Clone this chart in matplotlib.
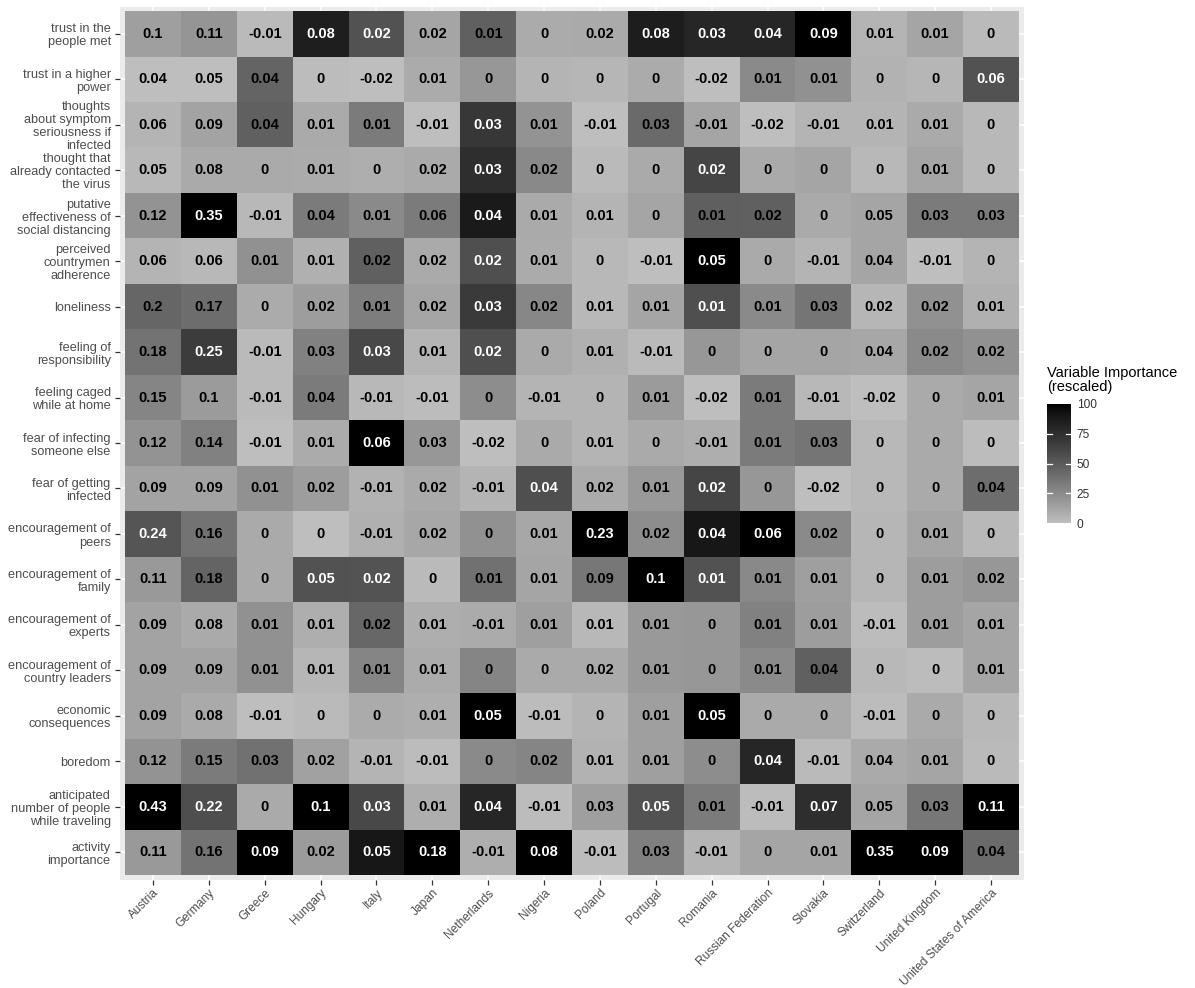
import numpy as np
import matplotlib
matplotlib.use("Agg")
import matplotlib.pyplot as plt
from matplotlib.colors import ListedColormap
from matplotlib import transforms

plt.rcParams['font.family'] = ['Liberation Sans', 'DejaVu Sans']

countries = ["Austria", "Germany", "Greece", "Hungary", "Italy", "Japan", "Netherlands",
             "Nigeria", "Poland", "Portugal", "Romania", "Russian Federation", "Slovakia",
             "Switzerland", "United Kingdom", "United States of America"]

variables = [
    "trust in the\npeople met",
    "trust in a higher\npower",
    "thoughts\nabout symptom\nseriousness if\ninfected",
    "thought that\nalready contacted\nthe virus",
    "putative\neffectiveness of\nsocial distancing",
    "perceived\ncountrymen\nadherence",
    "loneliness",
    "feeling of\nresponsibility",
    "feeling caged\nwhile at home",
    "fear of infecting\nsomeone else",
    "fear of getting\ninfected",
    "encouragement of\npeers",
    "encouragement of\nfamily",
    "encouragement of\nexperts",
    "encouragement of\ncountry leaders",
    "economic\nconsequences",
    "boredom",
    "anticipated\nnumber of people\nwhile traveling",
    "activity\nimportance",
]

# printed values (rows = variables top to bottom, columns = countries)
values = [
    [0.1, 0.11, -0.01, 0.08, 0.02, 0.02, 0.01, 0, 0.02, 0.08, 0.03, 0.04, 0.09, 0.01, 0.01, 0],
    [0.04, 0.05, 0.04, 0, -0.02, 0.01, 0, 0, 0, 0, -0.02, 0.01, 0.01, 0, 0, 0.06],
    [0.06, 0.09, 0.04, 0.01, 0.01, -0.01, 0.03, 0.01, -0.01, 0.03, -0.01, -0.02, -0.01, 0.01, 0.01, 0],
    [0.05, 0.08, 0, 0.01, 0, 0.02, 0.03, 0.02, 0, 0, 0.02, 0, 0, 0, 0.01, 0],
    [0.12, 0.35, -0.01, 0.04, 0.01, 0.06, 0.04, 0.01, 0.01, 0, 0.01, 0.02, 0, 0.05, 0.03, 0.03],
    [0.06, 0.06, 0.01, 0.01, 0.02, 0.02, 0.02, 0.01, 0, -0.01, 0.05, 0, -0.01, 0.04, -0.01, 0],
    [0.2, 0.17, 0, 0.02, 0.01, 0.02, 0.03, 0.02, 0.01, 0.01, 0.01, 0.01, 0.03, 0.02, 0.02, 0.01],
    [0.18, 0.25, -0.01, 0.03, 0.03, 0.01, 0.02, 0, 0.01, -0.01, 0, 0, 0, 0.04, 0.02, 0.02],
    [0.15, 0.1, -0.01, 0.04, -0.01, -0.01, 0, -0.01, 0, 0.01, -0.02, 0.01, -0.01, -0.02, 0, 0.01],
    [0.12, 0.14, -0.01, 0.01, 0.06, 0.03, -0.02, 0, 0.01, 0, -0.01, 0.01, 0.03, 0, 0, 0],
    [0.09, 0.09, 0.01, 0.02, -0.01, 0.02, -0.01, 0.04, 0.02, 0.01, 0.02, 0, -0.02, 0, 0, 0.04],
    [0.24, 0.16, 0, 0, -0.01, 0.02, 0, 0.01, 0.23, 0.02, 0.04, 0.06, 0.02, 0, 0.01, 0],
    [0.11, 0.18, 0, 0.05, 0.02, 0, 0.01, 0.01, 0.09, 0.1, 0.01, 0.01, 0.01, 0, 0.01, 0.02],
    [0.09, 0.08, 0.01, 0.01, 0.02, 0.01, -0.01, 0.01, 0.01, 0.01, 0, 0.01, 0.01, -0.01, 0.01, 0.01],
    [0.09, 0.09, 0.01, 0.01, 0.01, 0.01, 0, 0, 0.02, 0.01, 0, 0.01, 0.04, 0, 0, 0.01],
    [0.09, 0.08, -0.01, 0, 0, 0.01, 0.05, -0.01, 0, 0.01, 0.05, 0, 0, -0.01, 0, 0],
    [0.12, 0.15, 0.03, 0.02, -0.01, -0.01, 0, 0.02, 0.01, 0.01, 0, 0.04, -0.01, 0.04, 0.01, 0],
    [0.43, 0.22, 0, 0.1, 0.03, 0.01, 0.04, -0.01, 0.03, 0.05, 0.01, -0.01, 0.07, 0.05, 0.03, 0.11],
    [0.11, 0.16, 0.09, 0.02, 0.05, 0.18, -0.01, 0.08, -0.01, 0.03, -0.01, 0, 0.01, 0.35, 0.09, 0.04],
]

# rescaled importance (0-100) per country, read from the tile shading (top to bottom)
importance_by_country = {
    "Austria":     [15, 0, 5, 3, 21, 5, 44, 37, 28, 21, 13, 53, 18, 13, 13, 13, 21, 100, 18],
    "Germany":     [20, 0, 13, 10, 100, 3, 40, 67, 17, 30, 13, 37, 45, 10, 13, 10, 33, 57, 37],
    "Greece":      [2, 45, 47, 10, 3, 22, 9, 2, 2, 0, 22, 10, 10, 22, 22, 0, 38, 10, 100],
    "Hungary":     [85, 1, 10, 9, 33, 7, 16, 30, 33, 9, 16, 0, 55, 8, 4, 2, 14, 100, 17],
    "Italy":       [55, 0, 33, 8, 25, 47, 32, 60, 3, 100, 6, 7, 54, 43, 28, 9, 5, 60, 90],
    "Japan":       [12, 9, 0, 10, 33, 10, 12, 5, 1, 19, 10, 11, 2, 8, 9, 8, 1, 8, 100],
    "Netherlands": [47, 19, 70, 75, 88, 56, 68, 56, 24, 0, 5, 22, 38, 9, 28, 100, 25, 80, 8],
    "Nigeria":     [9, 5, 21, 26, 10, 9, 27, 10, 5, 10, 56, 11, 12, 15, 10, 1, 28, 1, 100],
    "Poland":      [10, 4, 0, 2, 5, 3, 3, 7, 5, 5, 9, 100, 35, 3, 10, 5, 6, 15, 1],
    "Portugal":    [86, 9, 42, 10, 12, 0, 12, 2, 17, 10, 18, 24, 100, 18, 18, 15, 15, 55, 31],
    "Romania":     [80, 0, 12, 62, 48, 100, 56, 19, 0, 8, 62, 90, 55, 19, 19, 100, 24, 33, 5],
    "Russian Federation": [80, 25, 0, 10, 47, 10, 25, 12, 33, 33, 19, 100, 26, 30, 25, 10, 80, 1, 12],
    "Slovakia":    [100, 22, 5, 12, 10, 5, 36, 12, 3, 36, 0, 25, 15, 16, 47, 10, 2, 75, 12],
    "Switzerland": [5, 6, 5, 3, 12, 12, 4, 11, 0, 3, 3, 4, 4, 1, 3, 1, 10, 12, 100],
    "United Kingdom": [12, 4, 10, 12, 33, 0, 22, 25, 10, 10, 10, 12, 16, 16, 1, 10, 12, 35, 100],
    "United States of America": [2, 55, 3, 3, 33, 5, 7, 22, 12, 1, 40, 3, 19, 12, 12, 3, 2, 100, 42],
}

legend_title = "Variable Importance\n(rescaled)"
legend_ticks = [0, 25, 50, 75, 100]

# ---------------------------------------------------------------
vals = np.array(values, dtype=float)
imp = np.array([importance_by_country[c] for c in countries], dtype=float).T
nrow, ncol = vals.shape


def lab_gray(L):
    fy = (L + 16) / 116
    Y = np.where(L > 8, fy ** 3, L / 903.3)
    s = np.where(Y <= 0.0031308, 12.92 * Y, 1.055 * Y ** (1 / 2.4) - 0.055)
    return np.clip(s, 0, 1)

def gray_to_L(g):
    c = g / 255.0
    Y = ((c + 0.055) / 1.055) ** 2.4 if c > 0.04045 else c / 12.92
    return 116 * Y ** (1 / 3) - 16 if Y > 0.008856 else 903.3 * Y

L0 = gray_to_L(190)
Ls = np.linspace(L0, 0, 256)
g = lab_gray(Ls)
cmap = ListedColormap(np.stack([g, g, g, np.ones_like(g)], axis=1))

fig = plt.figure(figsize=(11.95, 9.88), dpi=100)
ax = fig.add_axes([0.1, 0.1098, 0.7573, 0.8836])
ax.set_facecolor("#EBEBEB")

xe = np.arange(ncol + 1) - 0.5
ye = np.arange(nrow + 1) - 0.5
mesh = ax.pcolormesh(xe, ye, imp, cmap=cmap, vmin=0, vmax=100, zorder=2)

ax.set_xlim(-0.6, ncol - 0.4)
ax.set_ylim(nrow - 0.4, -0.6)

for i in range(ncol):
    ax.axvline(i, color="white", lw=1.1, zorder=1)
for j in range(nrow):
    ax.axhline(j, color="white", lw=1.1, zorder=1)

for j in range(nrow):
    for i in range(ncol):
        v = vals[j, i]
        txt = f"{v:g}"
        col = "white" if imp[j, i] > 50 else "black"
        ax.text(i, j, txt, ha="center", va="center", fontsize=10.5,
                fontweight="bold", color=col, zorder=3)

for s in ax.spines.values():
    s.set_visible(False)

ax.set_xticks(range(ncol))
ax.set_xticklabels(countries, rotation=45, ha="right", va="top",
                   rotation_mode="anchor", fontsize=8.6, color="#4D4D4D")
offset = transforms.ScaledTranslation(5 / 100, 3 / 100, fig.dpi_scale_trans)
for lab in ax.get_xticklabels():
    lab.set_transform(lab.get_transform() + offset)
ax.set_yticks(range(nrow))
ax.set_yticklabels(variables, fontsize=9.2, color="#4D4D4D", linespacing=1.12)
ax.tick_params(axis="both", length=3.8, width=0.9, color="#333333", pad=2.5)
ax.tick_params(axis="x", pad=1.5)

# colorbar legend
cax = fig.add_axes([1047 / 1195, 1 - 523 / 988, 24 / 1195, 119 / 988])
cb = fig.colorbar(mesh, cax=cax, ticks=legend_ticks)
cb.outline.set_visible(False)
cax.tick_params(length=0, labelsize=8.6, labelcolor="#333333", pad=4)
for t in legend_ticks[1:-1]:
    cax.plot([0, 0.22], [t, t], color="white", lw=0.9, transform=cax.get_yaxis_transform())
    cax.plot([0.78, 1], [t, t], color="white", lw=0.9, transform=cax.get_yaxis_transform())
fig.text(1047 / 1195, 1 - 366 / 988, legend_title, ha="left", va="top",
         fontsize=10.5, color="black", linespacing=1.0)

fig.savefig("out.png", dpi=100)
